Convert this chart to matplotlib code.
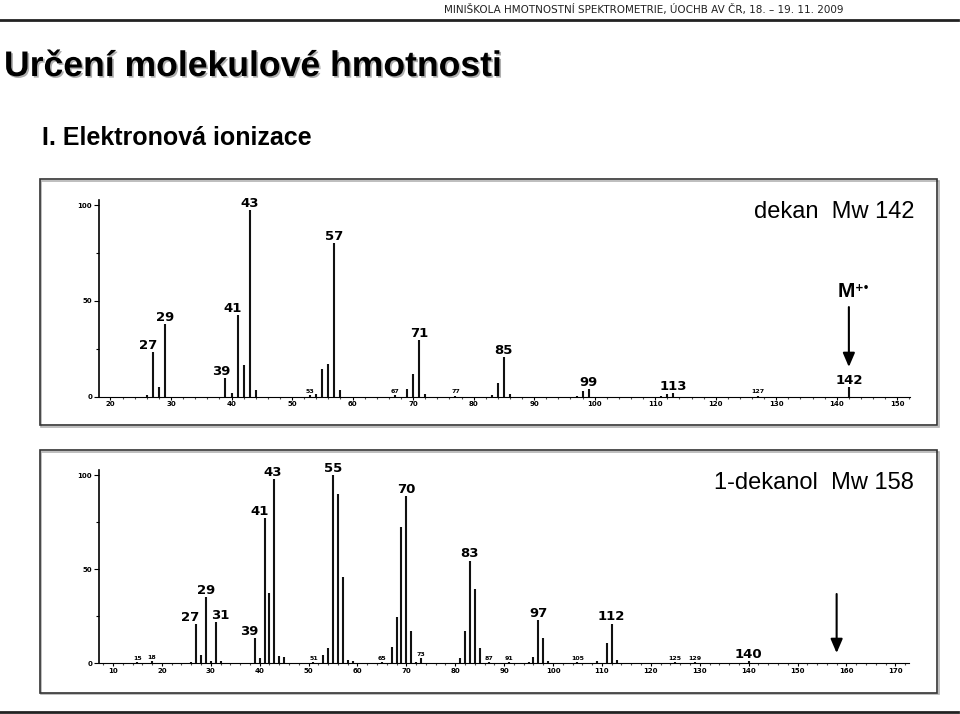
import matplotlib
matplotlib.use("Agg")
import matplotlib.pyplot as plt
import matplotlib.patheffects as pe
from matplotlib.patches import Rectangle
from matplotlib.lines import Line2D
from matplotlib.ticker import MultipleLocator, FixedLocator

# --- data ---
dekan_mz = [26, 27, 28, 29, 39, 40, 41, 42, 43, 44, 53, 54, 55, 56, 57, 58,
            67, 69, 70, 71, 72, 77, 83, 84, 85, 86, 97, 98, 99, 111, 112, 113,
            127, 142]
dekan_int = [1, 23, 5, 38, 9.5, 2, 42.5, 16.5, 97.5, 3.5, 1, 1.5, 14.5, 17, 80, 3.5,
             0.7, 4, 12, 29.5, 1.5, 0.5, 0.8, 7, 20.5, 1.2, 0.5, 3, 4, 0.5, 1.2, 2,
             0.5, 5]
dekan_labels = [27, 29, 39, 41, 43, 57, 71, 85, 99, 113, 142]
dekan_small = [53, 67, 77, 127]

dekanol_mz = [15, 18, 26, 27, 28, 29, 30, 31, 32, 39, 40, 41, 42, 43, 44, 45,
              51, 53, 54, 55, 56, 57, 58, 59, 65, 67, 68, 69, 70, 71, 72, 73,
              81, 82, 83, 84, 85, 87, 91, 95, 96, 97, 98, 99, 105, 109, 111, 112,
              113, 125, 129, 140]
dekanol_int = [0.5, 1, 0.7, 20.8, 4.3, 35, 1, 22, 1, 13.5, 2.7, 77, 37, 98, 3.5, 3.2,
               0.5, 4, 8, 100, 90, 46, 1.8, 0.8, 0.5, 8.3, 24.5, 72.5, 89, 17, 0.7, 2.5,
               2.5, 17, 54.5, 39.5, 7.8, 0.5, 0.5, 0.5, 3, 22.7, 13.5, 1, 0.5, 1, 10.8, 21,
               1.5, 0.4, 0.4, 1]
dekanol_labels = [27, 29, 31, 39, 41, 43, 55, 70, 83, 97, 112, 140]
dekanol_small = [15, 18, 51, 65, 73, 87, 91, 105, 125, 129]

W, H = 960, 714


def fx(px):
    return px / W


def fy(py):
    return 1 - py / H


fig = plt.figure(figsize=(9.6, 7.14), dpi=100)

# header
fig.text(fx(843), fy(12.5), "MINIŠKOLA HMOTNOSTNÍ SPEKTROMETRIE, ÚOCHB AV ČR, 18. – 19. 11. 2009",
         ha="right", va="baseline", fontsize=7.5, family="DejaVu Sans", color="#222")
fig.add_artist(Line2D([0, fx(958)], [fy(19.5), fy(19.5)], color="#222", lw=2))
fig.add_artist(Line2D([0, fx(958)], [fy(712), fy(712)], color="#222", lw=2))

fig.text(fx(4), fy(76), "Určení molekulové hmotnosti", fontsize=25.6, weight="bold",
         family="Liberation Sans", va="baseline",
         path_effects=[pe.withSimplePatchShadow(offset=(1.2, -1.2), shadow_rgbFace="0.65", alpha=0.9)])
fig.text(fx(42), fy(145), "I. Elektronová ionizace", fontsize=18, weight="bold",
         family="Liberation Sans", va="baseline")

# frames round the two spectra
for top, bot in [(179, 425), (450, 692.5)]:
    fig.add_artist(Rectangle((fx(41), fy(bot + 1.5)), (937 - 39.5) / W, (bot - top) / H,
                             fill=False, ec="0.7", lw=1.2))
    fig.add_artist(Rectangle((fx(39.5), fy(bot)), (937 - 39.5) / W, (bot - top) / H,
                             fill=False, ec="#333", lw=1.2))


def spectrum(left, right, base, y100, xlim, xticks, mz, inten, labels, small, nudge):
    unit = (base - y100) / 100.0
    top = base - 102.5 * unit
    ax = fig.add_axes([fx(left), fy(base), (right - left) / W, (base - top) / H])
    ax.set_facecolor("none")
    ax.vlines(mz, 0, inten, color="#111", lw=1.5)
    ax.set_xlim(*xlim)
    ax.set_ylim(0, 102.5)
    for s in ["top", "right"]:
        ax.spines[s].set_visible(False)
    ax.spines["left"].set_linewidth(1.2)
    ax.spines["bottom"].set_linewidth(0.8)
    ax.set_xticks(xticks)
    ax.xaxis.set_minor_locator(MultipleLocator(2))
    ax.set_yticks([0, 50, 100])
    ax.yaxis.set_minor_locator(FixedLocator([25, 75]))
    ax.tick_params(axis="x", which="major", length=2, width=0.8, pad=1.5,
                   labelsize=5)
    ax.tick_params(axis="x", which="minor", length=1.3, width=0.8, color="0.3")
    ax.tick_params(axis="y", which="major", length=3.5, width=0.8, pad=1.5, labelsize=5)
    ax.tick_params(axis="y", which="minor", length=2, width=0.8)
    for t in ax.get_xticklabels() + ax.get_yticklabels():
        t.set_fontweight("bold")
        t.set_family("DejaVu Sans")
    for m, v in zip(mz, inten):
        if m in labels:
            ax.annotate(str(m), xy=(m, v), xytext=(nudge.get(m, 0), 2.2),
                        textcoords="offset points", ha="center", va="baseline",
                        fontsize=9.5, fontweight="bold", family="DejaVu Sans",
                        annotation_clip=False)
        elif m in small:
            ax.annotate(str(m), xy=(m, v), xytext=(0, 1.5),
                        textcoords="offset points", ha="center", va="baseline",
                        fontsize=4.5, fontweight="bold", family="DejaVu Sans",
                        annotation_clip=False)
    return ax


ax1 = spectrum(99, 910, 396.5, 205, (18.1, 152.1), range(20, 151, 10),
               dekan_mz, dekan_int, dekan_labels, dekan_small,
               {27: -3.5, 39: -3, 41: -3.5})
ax2 = spectrum(99, 909, 663, 475, (7.14, 172.8), range(10, 171, 10),
               dekanol_mz, dekanol_int, dekanol_labels, dekanol_small,
               {27: -4.5, 31: 3.5, 39: -4, 41: -3.5, 43: -1})

arrow = dict(arrowstyle="-|>,head_length=0.7,head_width=0.3", lw=1.5, color="black",
             mutation_scale=12, shrinkA=0, shrinkB=0)
ax1.annotate("", xy=(142, 15.4), xytext=(142, 46.7), arrowprops=arrow,
             annotation_clip=False)
ax2.annotate("", xy=(158, 5.3), xytext=(158, 36.7), arrowprops=arrow,
             annotation_clip=False)

fig.text(fx(838), fy(297), "M", fontsize=15, weight="bold", family="Liberation Sans",
         va="baseline", ha="left")
fig.text(fx(855), fy(291), "+\u2022", fontsize=7.5, weight="bold", family="DejaVu Sans",
         va="baseline", ha="left")

fig.text(fx(914), fy(218), "dekan  Mw 142", ha="right", va="baseline", fontsize=17,
         family="Liberation Sans")
fig.text(fx(914), fy(489), "1-dekanol  Mw 158", ha="right", va="baseline", fontsize=17,
         family="Liberation Sans")

fig.savefig("out.png", dpi=100)
